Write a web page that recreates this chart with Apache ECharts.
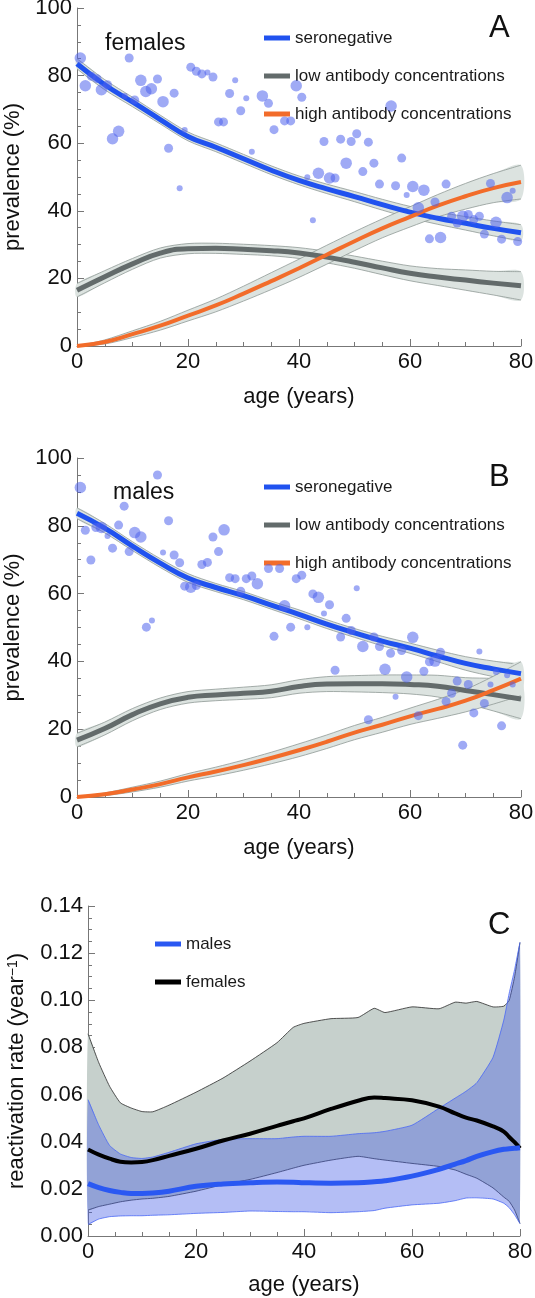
<!DOCTYPE html>
<html>
<head>
<meta charset="utf-8">
<script src="https://cdn.jsdelivr.net/npm/echarts@6/dist/echarts.min.js"></script>
<style>html,body{margin:0;padding:0;background:#fff}#c{width:535px;height:1298px}</style>
</head>
<body>
<div id="c"></div>
<script>
// ---------- DATA ----------
// Panel A (females) & B (males): fitted curves at these ages
const agesFit = [0,5,10,15,20,25,30,35,40,45,50,55,60,65,70,75,80];

const A_sero    = [83.5,77.3,72.2,67,62,58.8,55.4,52,49,46.5,44.2,41.8,39.6,37.8,36.3,34.8,33.5];
const A_sero_lo = [82,75.8,70.8,65.7,60.7,57.5,54.1,50.7,47.7,45.1,42.7,40.2,37.9,36,34.3,32.6,31.1];
const A_sero_hi = [85,78.8,73.6,68.3,63.3,60.1,56.7,53.3,50.3,47.9,45.7,43.4,41.3,39.6,38.3,37,35.9];
const A_low     = [16.5,20.5,24.3,27.5,28.8,28.9,28.6,28.2,27.5,26.3,24.8,23.1,21.5,20.4,19.5,18.6,17.8];
const A_low_lo  = [14.5,18.7,22.7,26,27.3,27.4,27.1,26.7,25.9,24.6,23,21.1,19.3,17.9,16.5,15.1,13.6];
const A_low_hi  = [18.5,22.3,25.9,29,30.3,30.4,30.1,29.7,29.1,28,26.6,25.1,23.7,22.9,22.5,22.1,22];
const A_high    = [0,1.2,3.5,6,9,12,15.5,19.2,23,27,31,34.8,38.2,41.5,44.3,46.7,48.5];
const A_high_lo = [0,0.6,2.5,4.7,7.4,10.1,13.3,16.7,20.3,24.2,28.2,32,35.2,38.2,40.5,42.4,43.5];
const A_high_hi = [0,1.8,4.5,7.3,10.6,13.9,17.7,21.7,25.7,29.8,33.8,37.6,41.2,44.8,48.1,51,53.5];

const B_sero    = [83.7,79.3,74,69,64.6,61.8,59.4,56.6,53.9,51,48.4,46,43.9,41.6,39.4,37.8,36.4];
const B_sero_lo = [82.1,77.9,72.7,67.7,63.3,60.6,58.2,55.4,52.6,49.7,47.1,44.6,42.4,39.9,37.4,35.5,33.8];
const B_sero_hi = [85.3,80.7,75.3,70.3,65.9,63,60.6,57.8,55.2,52.3,49.7,47.4,45.4,43.3,41.4,40.1,39];
const B_low     = [16.8,20.2,24.3,27.5,29.4,30.1,30.6,31.2,32.6,33.3,33.4,33.4,33.2,32.7,31.4,30.2,28.9];
const B_low_lo  = [14.8,18.3,22.5,25.8,27.7,28.4,28.8,29.3,30.6,31.1,31,30.8,30.4,29.5,27.6,25.4,23.1];
const B_low_hi  = [18.8,22.1,26.1,29.2,31.1,31.8,32.4,33.1,34.6,35.5,35.8,36,36,35.9,35.2,35,34.7];
const B_high    = [0,0.8,2.2,3.8,5.8,7.5,9.4,11.5,13.8,16.3,19,21.3,23.8,26,28.4,31.5,34.9];
const B_high_lo = [0,0.4,1.5,2.9,4.7,6.2,7.9,9.8,11.9,14.3,16.9,19.1,21.4,23.2,25.1,27.4,29.9];
const B_high_hi = [0,1.2,2.9,4.7,6.9,8.8,10.9,13.2,15.7,18.3,21.1,23.5,26.2,28.8,31.7,35.6,39.9];

// Observed seronegative prevalence by age: [age, %, relative sample size 1..3]
const A_points = [[0.6,85.2,3],[1.5,77,3],[2.6,79.8,2],[3.6,79.1,2],[4.4,75.8,3],[5.5,77.3,2],[6.4,61.3,3],[7.5,63.5,3],[8.6,74,1],[9.4,85.2,2],[10.4,72.8,2],[11.5,78.6,3],[12.4,75.3,3],[13.4,76.1,3],[14.5,79,2],[15.5,72.3,3],[16.5,58.5,2],[17.5,74.8,2],[18.5,46.7,1],[19.4,63.9,1],[20.5,82.5,2],[21.5,81.3,2],[22.5,80.5,2],[23.5,80.9,1],[24.5,79.6,2],[25.5,66.3,2],[26.4,66.3,2],[27.5,74.7,2],[28.5,78.6,1],[29.5,69.6,2],[30.5,73.3,1],[31.5,57.5,1],[33.4,74,3],[34.5,71.8,2],[35.5,64,2],[37.4,66.6,2],[38.5,66.6,2],[39.5,77,3],[40.5,73.6,2],[41.5,49.9,1],[42.5,37.2,1],[43.5,51.1,3],[44.5,60.5,2],[45.5,49.7,3],[46.5,49.7,2],[47.5,61.2,2],[48.5,54.1,3],[49.4,60.5,2],[50.4,62.8,2],[51.5,51.6,2],[52.5,60.3,2],[53.5,54.1,2],[54.5,47.9,2],[56.6,71,3],[57.4,47.4,2],[58.5,55.6,2],[59.4,44.7,1],[60.5,47.2,3],[61.5,40.9,3],[62.5,46.1,3],[63.5,31.7,2],[64.5,42.6,2],[65.5,32.1,3],[66.5,47.9,2],[67.5,38.4,2],[68.5,36.4,2],[69.5,38.4,3],[70.5,38.9,2],[71.5,37.4,2],[72.5,38.4,2],[73.4,33.1,2],[74.5,48.1,2],[75.5,36.6,3],[76.5,31.6,2],[77.5,43.9,3],[78.5,45.9,1],[79.4,30.9,2]];
const B_points = [[0.6,91.3,3],[1.5,78.7,2],[2.5,69.9,2],[3.4,79.5,2],[4.4,79.5,3],[5.5,77,1],[6.4,73.4,2],[7.5,80.2,2],[8.5,85.8,2],[9.4,72.4,2],[10.4,78,3],[11.5,76.7,3],[12.5,50.1,2],[13.5,52.1,1],[14.5,95,2],[15.5,72.1,1],[16.5,81.5,2],[17.5,71.4,2],[18.5,69.1,2],[19.4,62.2,2],[20.5,61.9,3],[21.5,62.4,2],[22.5,68.6,2],[23.5,69.2,2],[24.5,76.7,2],[25.5,72.4,2],[26.5,78.8,3],[27.5,64.7,2],[28.5,64.4,2],[29.5,60.7,2],[30.5,64.4,2],[31.5,65.2,2],[32.5,62.9,3],[34.5,67.4,2],[35.5,47.4,2],[36.5,67.4,2],[37.4,56.4,3],[38.5,50.1,2],[39.5,64.4,2],[40.5,65.4,2],[41.5,50.1,1],[42.5,59.9,2],[43.5,58.9,3],[44.5,54.1,1],[45.5,56.7,2],[46.5,37.4,2],[47.5,47.2,2],[48.5,52.7,2],[49.4,49.1,2],[50.4,61.6,1],[51.5,44.4,3],[52.5,22.8,2],[53.5,47.2,2],[54.5,44.4,2],[55.5,37.7,3],[56.5,42.4,2],[57.4,29.6,1],[58.5,43.2,2],[59.4,35.4,3],[60.5,47.1,3],[61.5,24,2],[62.5,37.1,2],[63.5,39.9,2],[64.5,40.1,3],[65.5,42.7,2],[66.5,28.2,2],[67.5,30.6,2],[68.5,34.2,2],[69.5,15.3,2],[70.5,33.2,2],[71.5,24.8,2],[72.5,42.9,1],[73.4,27.6,2],[74.5,33.2,1],[75.5,36.9,1],[76.5,21,2],[77.5,35.9,1],[78.5,33.2,1]];

// Panel C: reactivation rate
const agesC = [0,2,4,6,8,10,12,15,20,25,30,35,38,40,45,50,53,55,60,65,68,70,72,75,77,78,79,80];
const C_fem    = [0.0367,0.0345,0.0328,0.0315,0.0312,0.0314,0.0322,0.034,0.037,0.0405,0.0434,0.0467,0.0487,0.0499,0.0539,0.0574,0.0588,0.0585,0.0576,0.0549,0.052,0.0502,0.049,0.0465,0.0443,0.042,0.0398,0.0372];
const C_fem_lo = [0.011,0.0125,0.0135,0.0145,0.0152,0.0157,0.016,0.0168,0.019,0.0218,0.024,0.0269,0.0288,0.030,0.0322,0.0338,0.0328,0.0322,0.0308,0.0295,0.028,0.0262,0.0245,0.0204,0.0165,0.0147,0.011,0.0053];
const C_fem_hi = [0.0858,0.0735,0.0635,0.0565,0.0543,0.0528,0.0527,0.0555,0.061,0.067,0.0742,0.082,0.0885,0.0902,0.0922,0.0927,0.0966,0.0948,0.0972,0.0964,0.0992,0.0988,0.0995,0.0972,0.0975,0.100,0.110,0.1245];
const C_mal    = [0.0222,0.0205,0.0193,0.0185,0.018,0.018,0.0182,0.019,0.0211,0.0221,0.0226,0.0229,0.0228,0.0226,0.0224,0.0226,0.023,0.0234,0.0254,0.0283,0.0305,0.032,0.0338,0.0358,0.0368,0.037,0.0372,0.0374];
const C_mal_lo = [0.0049,0.0072,0.0082,0.0085,0.0086,0.0086,0.0088,0.009,0.0096,0.010,0.0106,0.0104,0.0103,0.0103,0.0099,0.0103,0.0108,0.0118,0.0132,0.0139,0.015,0.0161,0.0162,0.0157,0.0139,0.012,0.009,0.0053];
const C_mal_hi = [0.0578,0.047,0.0384,0.0348,0.0333,0.0329,0.0335,0.0355,0.0391,0.041,0.0413,0.0413,0.042,0.0423,0.0423,0.0434,0.0438,0.0444,0.047,0.0542,0.0585,0.0614,0.065,0.0758,0.0916,0.103,0.113,0.1246];

const legendAB = ['seronegative','low antibody concentrations','high antibody concentrations'];
const legendC = ['males','females'];

// ---------- STYLE ----------
const FONT = '"Liberation Sans", Arial, Helvetica, sans-serif';
const AX = '#777';
const COL = {sero:'#2052ef', low:'#636b6b', high:'#f26c2a', fem:'#000000', mal:'#2a58f2'};

function pairs(xs, ys){ return xs.map((x,i)=>[x, ys[i]]); }

// confidence band drawn through the axis scales (api.coord)
function band(gi, xs, lo, hi, fill, edge, smooth, z){
  return {type:'custom', xAxisIndex:gi, yAxisIndex:gi, silent:true, z:z,
    data: xs.map((x,i)=>[x, lo[i], hi[i]]), encode:{x:0, y:[1,2]},
    renderItem:(params, api)=>{
      if (params.dataIndex !== 0) return null;
      const loPts = xs.map((x,i)=>api.coord([x, lo[i]]));
      const hiPts = xs.map((x,i)=>api.coord([x, hi[i]]));
      return {type:'group', children:[
        {type:'polygon', shape:{points: loPts.concat(hiPts.slice().reverse()), smooth:smooth},
         style:{fill:fill, stroke:null}},
        {type:'polyline', shape:{points: loPts, smooth:smooth}, style:{stroke:edge, lineWidth:0.8, fill:null}},
        {type:'polyline', shape:{points: hiPts, smooth:smooth}, style:{stroke:edge, lineWidth:0.8, fill:null}}
      ]};
    }};
}
function curve(name, gi, xs, ys, color, width, smooth){
  return {type:'line', name:name, xAxisIndex:gi, yAxisIndex:gi, data:pairs(xs,ys),
    smooth:smooth, symbol:'none', lineStyle:{width:width, color:color}, itemStyle:{color:color}, z:3};
}
function dots(gi, pts){
  return {type:'scatter', name:'observed'+gi, xAxisIndex:gi, yAxisIndex:gi, data:pts,
    symbolSize:(d)=>[0,6,9,11.5][d[2]], itemStyle:{color:'rgba(78,98,236,0.68)'}, z:4};
}

function xAxisFor(gi, gap){
  return {type:'value', gridIndex:gi, min:0, max:80, interval:20,
    name:'age (years)', nameLocation:'middle', nameGap:gap,
    nameTextStyle:{fontSize:22, color:'#111', fontFamily:FONT},
    axisLine:{show:true, lineStyle:{color:AX, width:1}},
    axisTick:{show:true, inside:true, length:7, lineStyle:{color:AX}},
    minorTick:{show:true, splitNumber:4, length:4, lineStyle:{color:AX}},
    splitLine:{show:false}, minorSplitLine:{show:false},
    axisLabel:{fontSize:22, color:'#111', fontFamily:FONT, margin:5}};
}
function yAxisFor(gi, opts){
  return Object.assign({type:'value', gridIndex:gi, nameLocation:'middle',
    nameTextStyle:{fontSize:22, color:'#111', fontFamily:FONT},
    axisLine:{show:true, lineStyle:{color:AX, width:1}},
    axisTick:{show:true, inside:true, length:7, lineStyle:{color:AX}},
    minorTick:{show:true, splitNumber:4, length:4, lineStyle:{color:AX}},
    splitLine:{show:false}, minorSplitLine:{show:false},
    axisLabel:{fontSize:22, color:'#111', fontFamily:FONT, margin:5}}, opts);
}
function legendFor(names, left, top){
  return {orient:'vertical', left:left, top:top, data:names.map(n=>({name:n, icon:'rect'})),
    itemWidth:26, itemHeight:5, itemGap:18, selectedMode:false,
    textStyle:{fontSize:17, color:'#1a1a1a', fontFamily:FONT, lineHeight:20}};
}

const BAND_AB = '#dce3e0', EDGE_AB = '#8f9995';

const series = [
  band(0,agesFit,A_sero_lo,A_sero_hi,BAND_AB,EDGE_AB,0.3,1),
  band(0,agesFit,A_low_lo,A_low_hi,BAND_AB,EDGE_AB,0.3,1),
  band(0,agesFit,A_high_lo,A_high_hi,BAND_AB,EDGE_AB,0.3,1),
  curve(legendAB[0],0,agesFit,A_sero,COL.sero,5,true),
  curve(legendAB[1],0,agesFit,A_low,COL.low,5,true),
  curve(legendAB[2],0,agesFit,A_high,COL.high,4,true),
  dots(0,A_points),
  band(1,agesFit,B_sero_lo,B_sero_hi,BAND_AB,EDGE_AB,0.3,1),
  band(1,agesFit,B_low_lo,B_low_hi,BAND_AB,EDGE_AB,0.3,1),
  band(1,agesFit,B_high_lo,B_high_hi,BAND_AB,EDGE_AB,0.3,1),
  curve(legendAB[0],1,agesFit,B_sero,COL.sero,5,true),
  curve(legendAB[1],1,agesFit,B_low,COL.low,5,true),
  curve(legendAB[2],1,agesFit,B_high,COL.high,4,true),
  dots(1,B_points),
  band(2,agesC,C_fem_lo,C_fem_hi,'#c6d0cc','#2a2a2a',0.15,1),
  band(2,agesC,C_mal_lo,C_mal_hi,'rgba(67,92,230,0.4)','#4a68f5',0.15,2),
  curve(legendC[1],2,agesC,C_fem,COL.fem,4,0.4),
  curve(legendC[0],2,agesC,C_mal,COL.mal,5,0.4)
];

const chart = echarts.init(document.getElementById('c'), null, {renderer:'canvas'});
chart.setOption({
  animation:false,
  backgroundColor:'#fff',
  grid:[
    {left:77, top:8, width:444, height:338, containLabel:false, outerBoundsMode:'none'},
    {left:77, top:458, width:444, height:339, containLabel:false, outerBoundsMode:'none'},
    {left:88, top:906, width:432, height:330, containLabel:false, outerBoundsMode:'none'}
  ],
  xAxis:[xAxisFor(0,40), xAxisFor(1,40), xAxisFor(2,38)],
  yAxis:[
    yAxisFor(0,{min:0,max:100,interval:20,name:'prevalence (%)',nameGap:52}),
    yAxisFor(1,{min:0,max:100,interval:20,name:'prevalence (%)',nameGap:52}),
    yAxisFor(2,{min:0,max:0.14,interval:0.02,name:'reactivation rate (year{sup|−1})',nameGap:60,
      nameTextStyle:{fontSize:22,color:'#111',fontFamily:FONT,
        rich:{sup:{fontSize:14,color:'#111',fontFamily:FONT,verticalAlign:'top',lineHeight:22}}},
      axisLabel:{fontSize:22,color:'#111',fontFamily:FONT,margin:5,formatter:(v)=>v.toFixed(2)}})
  ],
  legend:[legendFor(legendAB,259,23), legendFor(legendAB,259,472), legendFor(legendC,150,929)],
  graphic:[
    {type:'text', left:105, top:32, style:{text:'females', font:'23px '+FONT, fill:'#111'}},
    {type:'text', left:113, top:481, style:{text:'males', font:'23px '+FONT, fill:'#111'}},
    {type:'text', left:489, top:13, style:{text:'A', font:'31px '+FONT, fill:'#111'}},
    {type:'text', left:489, top:462, style:{text:'B', font:'31px '+FONT, fill:'#111'}},
    {type:'text', left:488, top:910, style:{text:'C', font:'31px '+FONT, fill:'#111'}}
  ],
  series:series
});
</script>
</body>
</html>
